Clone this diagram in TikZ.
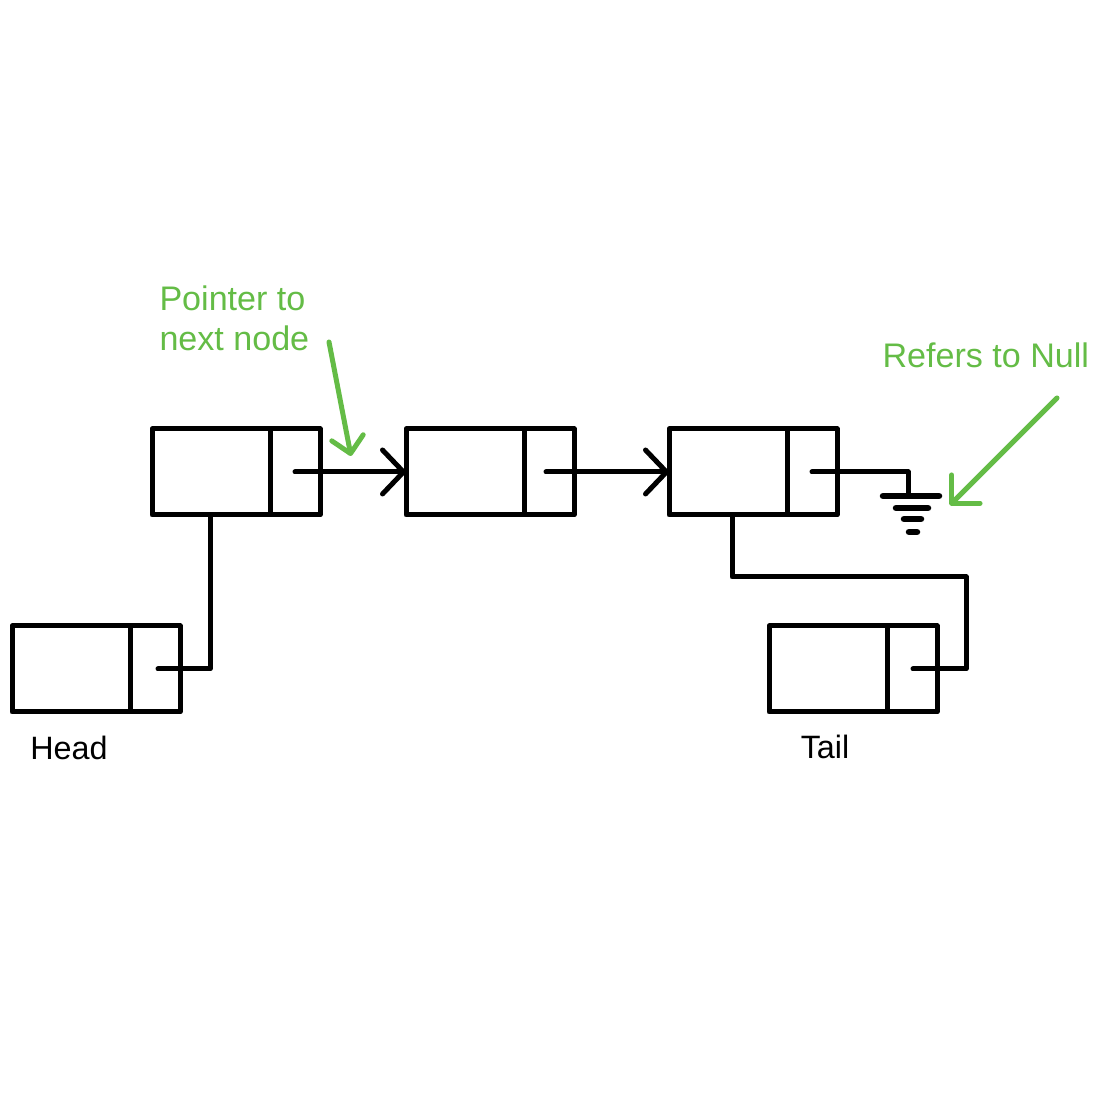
\documentclass[tikz,border=0pt]{standalone}
\usepackage{fontspec}
\setmainfont{Liberation Sans}
\usepackage{tikz}
\usetikzlibrary{arrows.meta,positioning,calc}
\definecolor{notegreen}{RGB}{100,188,70}

\begin{document}
\begin{tikzpicture}[
  every node/.style={font=\fontsize{9.2}{11}\selectfont},
  line width=0.05cm, line cap=round, line join=round,
  listnode/.style={rectangle, draw, inner sep=0pt, outer sep=0pt,
      minimum width=1.68cm, minimum height=0.86cm,
      path picture={\draw[line width=0.05cm]
        ([xshift=1.18cm]path picture bounding box.north west) --
        ([xshift=1.18cm]path picture bounding box.south west);}},
  nextptr/.style={-{Straight Barb[length=2.1mm,width=4.4mm,round]}},
  groundbar/.style={line width=0.065cm},
  note/.style={color=notegreen, font=\fontsize{9.7}{11.4}\selectfont, align=left, inner sep=0pt, anchor=west},
  notearrow/.style={draw=notegreen, -{Straight Barb[length=1.6mm,width=3.2mm,round]}}
]
\useasboundingbox (0,0) rectangle (11,11);

% the three list nodes
\node[listnode] (n1) at (2.36,6.28) {};
\node[listnode] (n2) at (4.90,6.28) {};
\node[listnode] (n3) at (7.53,6.28) {};

% head and tail references
\node[listnode] (head) at (0.96,4.31) {};
\node[listnode] (tail) at (8.53,4.31) {};
\node (headlbl) at (0.69,3.52) {Head};
\node (taillbl) at (8.25,3.53) {Tail};

% next pointers
\draw[nextptr] ($(n1.center)+(0.59,0)$) -- (n2.west);
\draw[nextptr] ($(n2.center)+(0.56,0)$) -- (n3.west);

% last node points to null (ground)
\coordinate (gnd) at (9.08,6.04);
\draw ($(n3.center)+(0.59,0)$) -| (gnd);
\draw[groundbar] (8.83,6.04) -- (9.39,6.04);
\draw[groundbar] (8.96,5.92) -- (9.28,5.92);
\draw[groundbar] (9.04,5.81) -- (9.21,5.81);
\draw[groundbar] (9.09,5.68) -- (9.17,5.68);

% head -> first node, tail -> last node
\draw ($(head.center)+(0.62,0)$) -| ($(n1.south)+(-0.26,0)$);
\coordinate (tailbend) at (9.66,5.23);
\draw ($(n3.south)+(-0.21,0)$) |- (tailbend) |- ($(tail.center)+(0.60,0)$);

% green notes
\node[note] (ptrnote) at (1.57,7.82) {Pointer to\\next node};
\coordinate (ptrfrom) at (3.29,7.58);
\coordinate (ptrto) at (3.51,6.44);
\draw[notearrow] (ptrfrom) -- (ptrto);

\node[note] (nullnote) at (8.80,7.45) {Refers to Null};
\coordinate (nullfrom) at (10.57,7.02);
\coordinate (nullto) at (9.50,5.95);
\draw[notearrow, -{Straight Barb[length=2mm,width=4mm,round]}] (nullfrom) -- (nullto);
\end{tikzpicture}
\end{document}
